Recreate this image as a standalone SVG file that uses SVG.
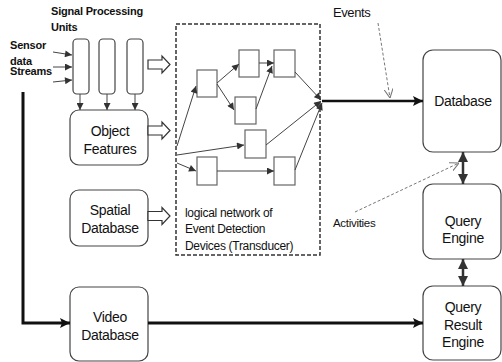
<svg xmlns="http://www.w3.org/2000/svg" width="502" height="362" viewBox="0 0 502 362">
<defs>
<style>
text{font-family:"Liberation Sans",Arial,sans-serif;fill:#111}
.lbl{font-size:14px;letter-spacing:-0.3px;text-anchor:middle}
.bold{font-size:11px;font-weight:bold;letter-spacing:-0.2px}
.net{font-size:12px;letter-spacing:-0.3px}
.box{fill:#fff;stroke:#444;stroke-width:1.2}
.unit{fill:#fff;stroke:#444;stroke-width:1.2}
.dev{fill:#fff;stroke:#666;stroke-width:1.2}
.thin{stroke:#444;stroke-width:1;fill:none;marker-end:url(#ah)}
.thick{stroke:#111;stroke-width:3;fill:none;marker-end:url(#big)}
.dbl{stroke:#333;stroke-width:2.5;fill:none;marker-start:url(#big2);marker-end:url(#big2)}
.hint{stroke:#777;stroke-width:1;stroke-dasharray:3,2;fill:none;marker-end:url(#open)}
.hollow{fill:#fff;stroke:#333;stroke-width:1.2}
</style>
<marker id="ah" viewBox="0 0 10 10" refX="10" refY="5" markerWidth="8" markerHeight="7" markerUnits="userSpaceOnUse" orient="auto"><path d="M0,0 L10,5 L0,10 z" fill="#333"/></marker>
<marker id="big" viewBox="0 0 10 10" refX="10" refY="5" markerWidth="10" markerHeight="10" markerUnits="userSpaceOnUse" orient="auto"><path d="M0,0 L10,5 L0,10 L2,5 z" fill="#111"/></marker>
<marker id="big2" viewBox="0 0 10 10" refX="10" refY="5" markerWidth="10" markerHeight="10" markerUnits="userSpaceOnUse" orient="auto-start-reverse"><path d="M0,0 L10,5 L0,10 z" fill="#333"/></marker>
<marker id="open" viewBox="0 0 10 10" refX="10" refY="5" markerWidth="9" markerHeight="9" markerUnits="userSpaceOnUse" orient="auto"><path d="M0,0 L10,5 L0,10" fill="none" stroke="#777" stroke-width="1.2"/></marker>
</defs>

<rect width="502" height="362" fill="#fff"/>

<text class="bold" x="51" y="15">Signal Processing</text>
<text class="bold" x="51" y="31">Units</text>
<text class="bold" x="10" y="49">Sensor</text>
<text class="bold" x="10" y="65">data</text>
<text class="bold" x="10" y="75">Streams</text>

<g id="unit1"><rect class="unit" x="73" y="39" width="16" height="55" rx="4"/></g>
<g id="unit2"><rect class="unit" x="99" y="39" width="16" height="55" rx="4"/></g>
<g id="unit3"><rect class="unit" x="127" y="39" width="16" height="55" rx="4"/></g>

<g id="object-features"><rect class="box" x="70" y="110" width="78" height="55" rx="9"/>
<text class="lbl" x="110" y="136">Object</text><text class="lbl" x="110" y="154">Features</text></g>

<g id="spatial-database"><rect class="box" x="70" y="190" width="78" height="56" rx="9"/>
<text class="lbl" x="110" y="215">Spatial</text><text class="lbl" x="110" y="233">Database</text></g>

<g id="video-database"><rect class="box" x="70" y="287" width="78" height="74" rx="9"/>
<text class="lbl" x="110" y="322">Video</text><text class="lbl" x="110" y="340">Database</text></g>

<g id="network">
<rect x="176" y="24" width="144" height="231" fill="none" stroke="#333" stroke-width="1.5" stroke-dasharray="4,2"/>
<text class="net" x="185" y="216.5">logical network of</text>
<text class="net" x="185" y="233">Event Detection</text>
<text class="net" x="185" y="249.5">Devices (Transducer)</text>
</g>

<g id="devA"><rect class="dev" x="197" y="70" width="20" height="27"/></g>
<g id="devB"><rect class="dev" x="239" y="50" width="20" height="27"/></g>
<g id="devC"><rect class="dev" x="274" y="50" width="21" height="27"/></g>
<g id="devD"><rect class="dev" x="235" y="97" width="21" height="27"/></g>
<g id="devE"><rect class="dev" x="245" y="130" width="21" height="28"/></g>
<g id="devF"><rect class="dev" x="197" y="157" width="20" height="28"/></g>
<g id="devG"><rect class="dev" x="274" y="157" width="21" height="28"/></g>

<g id="database"><rect class="box" x="423" y="50" width="78" height="102" rx="10"/>
<text class="lbl" x="463" y="106">Database</text></g>

<g id="query-engine"><rect class="box" x="423" y="184" width="78" height="75" rx="10"/>
<text class="lbl" x="463" y="226">Query</text><text class="lbl" x="463" y="243">Engine</text></g>

<g id="query-result-engine"><rect class="box" x="423" y="286" width="78" height="74" rx="10"/>
<text class="lbl" x="463" y="312">Query</text><text class="lbl" x="463" y="329.5">Result</text><text class="lbl" x="463" y="347">Engine</text></g>

<text x="333" y="17" style="font-size:13px;letter-spacing:-0.4px">Events</text>
<text x="333" y="227" style="font-size:11.5px;letter-spacing:-0.3px">Activities</text>

<g id="connectors">
<line class="thin" x1="53" y1="52" x2="72" y2="55"/>
<line class="thin" x1="53" y1="67" x2="72" y2="67"/>
<line class="thin" x1="53" y1="82" x2="72" y2="80"/>
<line class="thin" x1="80" y1="94" x2="80" y2="110"/>
<line class="thin" x1="107" y1="94" x2="107" y2="110"/>
<line class="thin" x1="135" y1="94" x2="135" y2="110"/>

<polygon class="hollow" points="148,60 162,60 162,56 170,64.5 162,73 162,69 148,69"/>
<polygon class="hollow" points="148,126 162,126 162,122 170,130.5 162,139 162,135 148,135"/>
<polygon class="hollow" points="148,211.5 162,211.5 162,207.5 170,216 162,224.5 162,220.5 148,220.5"/>

<line class="thin" x1="177" y1="146" x2="196" y2="86"/>
<line class="thin" x1="177" y1="155" x2="244" y2="145"/>
<line class="thin" x1="177" y1="163" x2="196" y2="171"/>
<line class="thin" x1="217" y1="83" x2="239" y2="64"/>
<line class="thin" x1="217" y1="84" x2="234" y2="110"/>
<line class="thin" x1="259" y1="63" x2="274" y2="63"/>
<line class="thin" x1="256" y1="109" x2="272" y2="66"/>
<line class="thin" x1="295" y1="72" x2="321" y2="100"/>
<line class="thin" x1="266" y1="145" x2="321" y2="101"/>
<line class="thin" x1="295" y1="170" x2="322" y2="103"/>
<line class="thin" x1="217" y1="171" x2="274" y2="171"/>

<line class="thick" x1="322" y1="101" x2="423" y2="101" style="stroke-width:2.5"/>
<path class="thick" d="M23,92 L23,323 L70,323"/>
<line class="thick" x1="148" y1="323" x2="423" y2="323"/>

<line class="dbl" x1="463" y1="152" x2="463" y2="184"/>
<line class="dbl" x1="463" y1="259" x2="463" y2="286"/>

<line class="hint" x1="378" y1="23" x2="390" y2="98"/>
<line class="hint" x1="355" y1="212" x2="459" y2="163"/>
</g>
</svg>
